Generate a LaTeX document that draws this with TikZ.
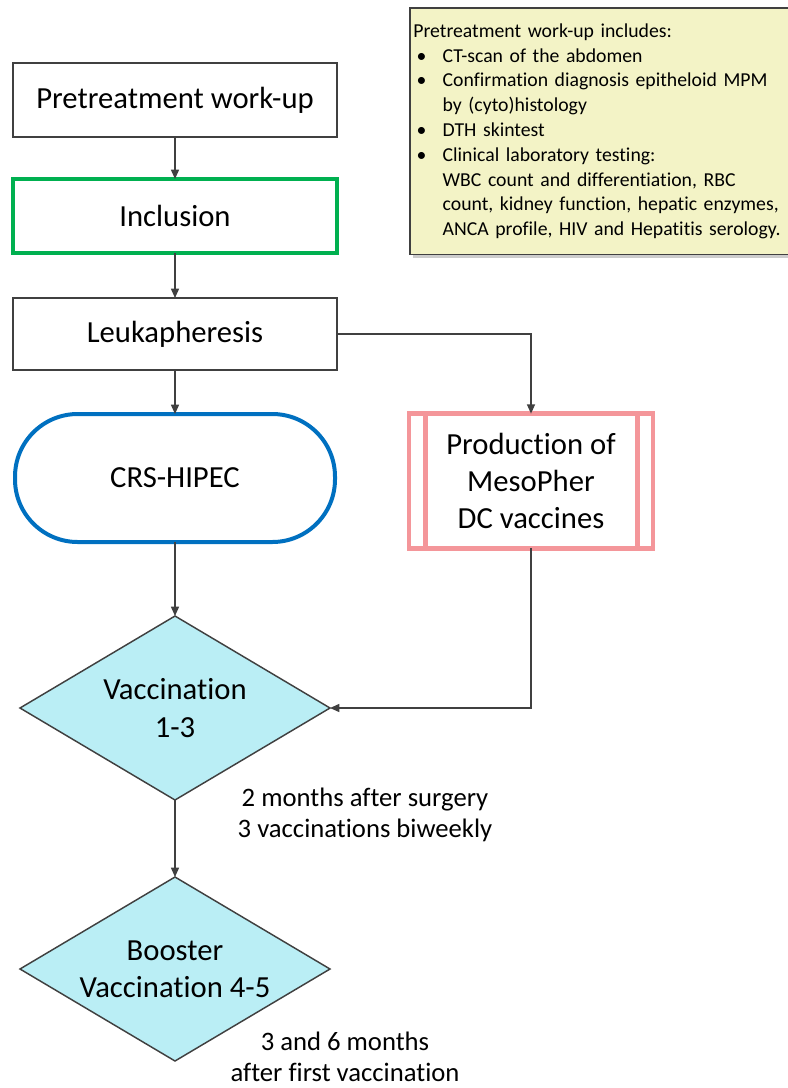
\documentclass[tikz,border=0pt]{standalone}
\usepackage{fontspec}
\setmainfont[Ligatures=NoCommon]{Carlito}
\usetikzlibrary{shapes.geometric,arrows.meta,shadows}
\definecolor{lineg}{RGB}{64,64,64}
\definecolor{incg}{RGB}{0,176,80}
\definecolor{crsb}{RGB}{0,112,192}
\definecolor{prodp}{RGB}{244,150,154}
\definecolor{vacc}{RGB}{186,238,245}
\definecolor{notey}{RGB}{243,243,198}
\newcommand{\nbul}{\hspace*{2.5pt}\makebox[19.5pt][l]{\textbullet}}
\newcommand{\nind}{\hspace*{22pt}}
\begin{document}
\begin{tikzpicture}[x=0.75pt,y=-0.75pt]
\tikzset{ >={Triangle[length=7pt,width=6pt]}, inner sep=0pt, outer sep=0pt,
  font=\fontsize{23}{28}\selectfont,
  box/.style={draw=lineg, line width=1.1pt, minimum width=243pt, minimum height=55.5pt},
  flow/.style={draw=lineg, line width=1.1pt, ->},
  vacbox/.style={diamond, draw=lineg, line width=1.1pt, fill=vacc, shape aspect=1.7,
    minimum width=232.5pt, minimum height=138pt, align=center},
  after/.style={font=\fontsize{20}{23}\selectfont, align=center},
}
\useasboundingbox (0,0) rectangle (788,1088);

\node [box] (PW) at (175,100) {Pretreatment work-up};
\node [box, draw=incg, line width=3pt] (IN) at (175,216) {Inclusion};
\node [box, minimum height=54pt] (LK) at (175,334) {Leukapheresis};
\node [draw=crsb, line width=3pt, rounded corners=47pt, minimum width=240pt, minimum height=96pt] (CH) at (175,478) {CRS-HIPEC};
\node [draw=prodp, line width=3.6pt, minimum width=183pt, minimum height=101pt, align=center] (PD) at (531,481) {Production of\\MesoPher\\DC vaccines};
\node [vacbox] (V1) at (175,708) {Vaccination\\1-3};
\node [vacbox] (V2) at (175,969) {Booster\\Vaccination 4-5};

\draw [prodp, line width=3.6pt] ([xshift=12.5pt]PD.north west) -- ([xshift=12.5pt]PD.south west);
\draw [prodp, line width=3.6pt] ([xshift=-11.5pt]PD.north east) -- ([xshift=-11.5pt]PD.south east);

\draw [flow] (PW) -- (IN);
\draw [flow] (IN) -- (LK);
\draw [flow] (LK) -- (CH);
\draw [flow] (LK.east) -| (PD.north);
\draw [flow] (CH) -- (V1);
\draw [flow] (PD.south) |- (V1.east);
\draw [flow] (V1) -- (V2);

\node [after] (A1) at (365,815) {2 months after surgery\\3 vaccinations biweekly};
\node [after] (A2) at (345,1057) {3 and 6 months\\after first vaccination};

\node [draw=lineg, line width=0.8pt, fill=notey, anchor=north west, inner xsep=2.5pt, inner ysep=5pt,
  text width=300pt, minimum height=185pt, align=left, font=\fontsize{14.8}{18.6}\selectfont,
  drop shadow={shadow xshift=2.5pt, shadow yshift=-2.5pt, fill=black!40}] (NT) at (410,8)
  {Pretreatment work-up includes:\\
   \nbul CT-scan of the abdomen\\
   \nbul Confirmation diagnosis epitheloid MPM\\
   \nind by (cyto)histology\\
   \nbul DTH skintest\\
   \nbul Clinical laboratory testing:\\
   \nind WBC count and differentiation, RBC\\
   \nind count, kidney function, hepatic enzymes,\\
   \nind ANCA profile, HIV and Hepatitis serology.};

\end{tikzpicture}
\end{document}
